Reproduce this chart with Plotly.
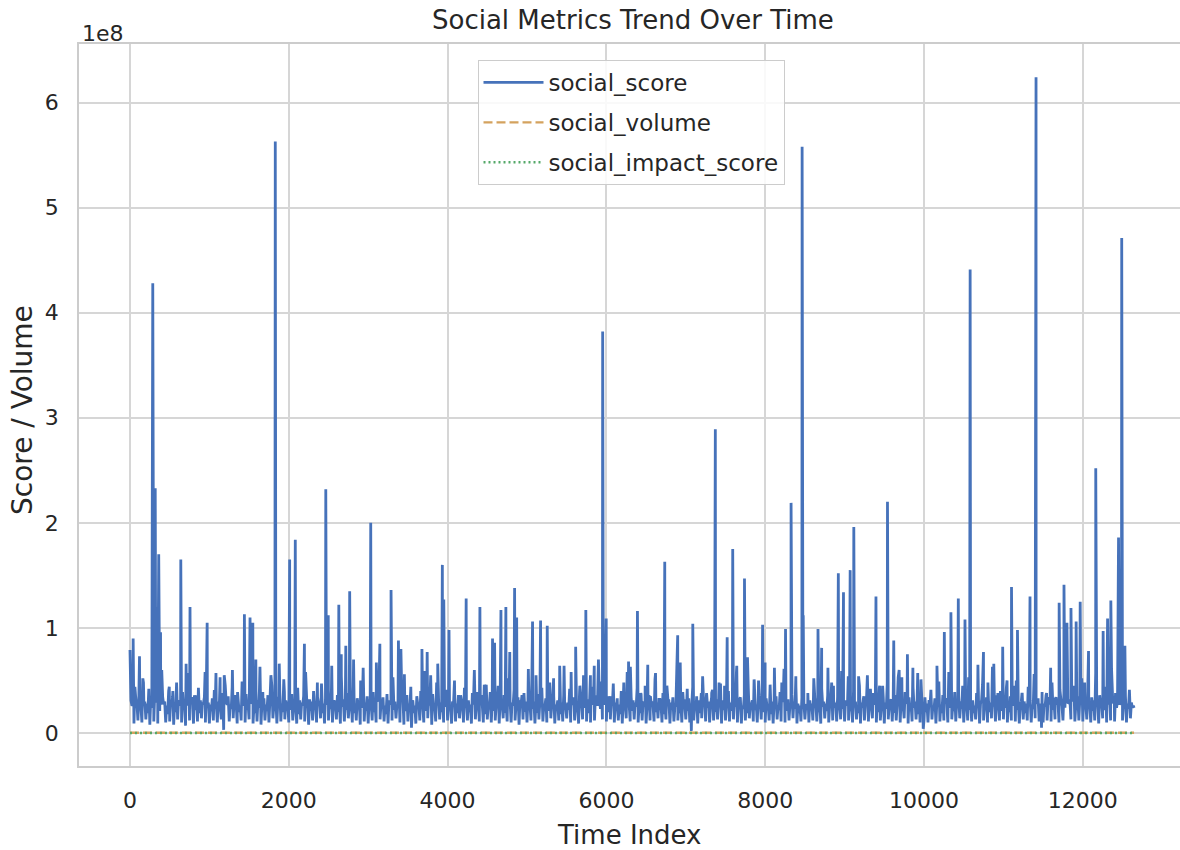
import plotly.graph_objects as go

# ---------------- data (values in millions) ----------------
# dense baseline band read in two interleaved passes (every 25 steps, offset 0 and 12)
base_step = 25
baseline_a_m = [
    14, 26, 9, 31, 12, 22, 10, 28, 13, 19, 8, 24, 11, 33, 9, 21, 12, 27, 10, 18,
    11, 25, 8, 20, 13, 29, 10, 23, 7, 26, 12, 34, 9, 22, 11, 19, 14, 28, 10, 24,
    9, 21, 12, 30, 10, 25, 13, 18, 8, 27, 11, 23, 14, 36, 9, 20, 12, 26, 10, 22,
    13, 28, 9, 19, 11, 24, 8, 31, 12, 21, 10, 27, 14, 23, 9, 35, 11, 20, 13, 25,
    10, 22, 12, 29, 9, 18, 13, 26, 11, 33, 8, 21, 12, 24, 10, 28, 14, 19, 9, 27,
    12, 23, 10, 30, 13, 20, 9, 25, 11, 22, 14, 38, 10, 19, 12, 27, 8, 24, 11, 21,
    9, 26, 12, 20, 10, 32, 13, 23, 11, 18, 9, 28, 12, 22, 14, 25, 10, 30, 8, 21,
    11, 24, 13, 19, 9, 27, 12, 34, 10, 21, 14, 26, 8, 23, 11, 29, 13, 20, 10, 25,
    12, 22, 9, 28, 11, 19, 14, 31, 10, 24, 12, 20, 9, 27, 13, 23, 11, 36, 10, 18,
    13, 25, 10, 21, 12, 29, 9, 23, 14, 19, 11, 32, 10, 26, 12, 22, 8, 28, 13, 20,
    10, 27, 12, 23, 9, 19, 13, 30, 11, 25, 10, 21, 14, 33, 9, 24, 12, 18, 11, 26,
    14, 22, 10, 29, 12, 20, 9, 35, 13, 24, 11, 19, 10, 27, 12, 31, 9, 23, 13, 28,
    11, 20, 13, 26, 10, 22, 12, 18, 9, 24, 14, 30, 11, 21, 13, 25, 10, 19, 12, 27,
    9, 23, 12, 29, 11, 20, 14, 25, 10, 18, 13, 32, 9, 22, 11, 26, 12, 19, 10, 24,
    13, 21, 10, 27, 12, 23, 9, 19, 14, 28, 11, 24, 10, 34, 12, 20, 13, 26, 9, 22,
    12, 29, 11, 21, 13, 25, 10, 31, 9, 23, 12, 19, 14, 27, 11, 22, 10, 36, 13, 20,
    10, 24, 12, 18, 9, 26, 13, 22, 11, 30, 10, 21, 12, 28, 14, 23, 9, 19, 11, 25,
    13, 27, 10, 22, 12, 33, 11, 20, 9, 25, 14, 21, 10, 29, 12, 24, 11, 38, 13, 23,
    11, 26, 12, 21, 10, 28, 13, 19, 9, 24, 12, 31, 11, 22, 14, 27, 10, 20, 12, 25,
    9, 23, 13, 30, 11, 19, 12, 26, 10, 22, 14, 28, 9, 21, 11, 24, 13, 18, 10, 27,
    12, 20, 10, 25, 13, 22, 9, 29, 11, 19, 12, 33, 10, 24, 13, 21, 11, 27, 14, 23,
    10, 28, 12, 22, 11, 19, 13, 26, 9, 31, 12, 23, 10, 20, 14, 25, 11, 29, 12, 21,
    13, 24, 10, 20, 12, 27, 11, 22, 9, 30, 13, 19, 12, 26, 10, 23, 14, 28, 11, 21,
    10, 25, 12, 34, 11, 22, 13, 27, 10, 31, 12, 24, 9, 29, 13, 36, 11, 26, 12, 30,
    11, 23, 13, 28, 10, 21, 12, 32, 9, 25, 14, 22, 10, 27, 12, 35, 11, 24, 13, 29,
    12, 26, 10, 23, 14, 24,
]
baseline_b_offset = 12
baseline_b_m = [
    31, 27, 44, 29, 36, 26, 52, 30, 28, 42, 33, 25, 38, 29, 61, 27, 34, 30, 26, 40,
    29, 35, 27, 48, 31, 26, 39, 28, 33, 57, 30, 27, 36, 25, 43, 31, 28, 34, 46, 29,
    27, 33, 41, 28, 30, 26, 38, 55, 29, 35, 27, 44, 31, 28, 32, 26, 49, 30, 37, 28,
    34, 29, 26, 40, 31, 63, 28, 33, 27, 36, 30, 45, 26, 32, 29, 39, 28, 51, 31, 27,
    30, 37, 28, 26, 43, 31, 29, 35, 58, 27, 32, 30, 40, 26, 34, 29, 47, 28, 33, 31,
    26, 41, 30, 28, 36, 27, 54, 32, 29, 38, 26, 31, 45, 28, 33, 30, 27, 62, 29, 35,
    32, 28, 39, 27, 30, 46, 29, 34, 26, 37, 31, 28, 53, 30, 27, 42, 29, 33, 26, 36,
    28, 44, 31, 26, 35, 29, 40, 27, 59, 30, 33, 28, 37, 26, 48, 31, 29, 34, 27, 41,
    33, 27, 30, 50, 28, 36, 26, 32, 43, 29, 31, 27, 38, 60, 30, 28, 35, 26, 46, 29,
    26, 39, 29, 33, 27, 45, 31, 28, 36, 26, 52, 30, 29, 41, 27, 34, 31, 26, 38, 30,
    31, 28, 56, 30, 27, 37, 29, 43, 26, 33, 30, 48, 28, 35, 27, 31, 64, 29, 36, 26,
    29, 42, 27, 34, 31, 26, 39, 30, 55, 28, 32, 27, 44, 29, 36, 26, 33, 49, 28, 30,
    35, 26, 31, 47, 29, 33, 27, 40, 30, 28, 58, 26, 34, 31, 29, 43, 27, 37, 30, 28,
    27, 36, 30, 26, 51, 29, 32, 28, 38, 27, 45, 31, 29, 34, 26, 62, 30, 28, 39, 27,
    30, 33, 28, 44, 26, 35, 31, 29, 54, 27, 38, 30, 26, 41, 29, 32, 28, 47, 31, 26,
    28, 40, 29, 31, 27, 57, 30, 34, 26, 36, 29, 43, 28, 31, 50, 27, 33, 30, 38, 29,
    33, 27, 46, 30, 28, 35, 26, 39, 31, 61, 29, 32, 27, 37, 30, 44, 28, 26, 34, 29,
    26, 38, 31, 28, 52, 29, 33, 27, 42, 30, 28, 36, 26, 48, 31, 29, 35, 27, 59, 30,
    31, 29, 35, 27, 40, 30, 26, 45, 29, 33, 28, 55, 30, 27, 38, 31, 29, 43, 26, 34,
    29, 47, 27, 32, 30, 36, 28, 60, 31, 26, 39, 29, 34, 27, 44, 30, 28, 37, 51, 27,
    34, 28, 30, 41, 26, 33, 29, 49, 27, 36, 31, 28, 58, 30, 26, 39, 29, 35, 27, 45,
    27, 32, 53, 29, 31, 26, 38, 30, 28, 46, 27, 34, 31, 29, 63, 28, 36, 26, 40, 30,
    30, 43, 28, 35, 27, 31, 50, 29, 26, 37, 30, 28, 44, 31, 27, 56, 29, 33, 28, 39,
    28, 36, 31, 27, 48, 30, 34, 29, 41, 26, 38, 65, 28, 32, 30, 45, 27, 35, 31, 52,
    32, 29, 40, 27, 34, 31, 57, 28, 36, 30, 26, 44, 29, 33, 61, 28, 38, 30, 27, 49,
    30, 35, 28, 41, 29, 26,
]

# spikes and dips
spike_index = [
    0, 40, 120, 170, 287, 318, 345, 362, 385, 400, 495, 540, 640, 707, 756, 840,
    946, 972, 1083, 1135, 1180, 1200, 1290, 1355, 1441, 1512, 1547, 1585, 1673,
    1775, 1830, 1880, 1945, 2011, 2082, 2197, 2360, 2466, 2497, 2541, 2630, 2661,
    2718, 2767, 2816, 2905, 3032, 3103, 3147, 3288, 3381, 3412, 3456, 3545, 3553,
    3677, 3743, 3787, 3876, 3934, 3952, 4018, 4089, 4164, 4234, 4309, 4376, 4407,
    4487, 4566, 4592, 4672, 4734, 4783, 4844, 4870, 4937, 5017, 5070, 5114, 5171,
    5255, 5335, 5410, 5467, 5556, 5613, 5666, 5741, 5799, 5847, 5900, 5953, 5998,
    6046, 6139, 6219, 6279, 6302, 6391, 6433, 6488, 6521, 6554, 6619, 6675, 6735,
    6777, 6860, 6898, 6930, 6977, 7018, 7070, 7088, 7130, 7195, 7256, 7326, 7372,
    7419, 7488, 7521, 7558, 7591, 7642, 7739, 7777, 7860, 7916, 7967, 7999, 8116,
    8209, 8256, 8326, 8386, 8465, 8479, 8535, 8605, 8665, 8711, 8790, 8860, 8921,
    8986, 9046, 9070, 9116, 9176, 9242, 9325, 9395, 9442, 9479, 9540, 9619, 9675,
    9721, 9791, 9860, 9921, 9986, 9990, 10070, 10163, 10256, 10339, 10432, 10465,
    10516, 10581, 10679, 10749, 10805, 10879, 10930, 10991, 11046, 11102, 11140,
    11177, 11233, 11335, 11411, 11480, 11488, 11544, 11595, 11651, 11702, 11763,
    11800, 11851, 11916, 11967, 12023, 12072, 12163, 12233, 12256, 12312, 12353,
    12395, 12450, 12490, 12530, 12560, 12645,
]
spike_m = [
    79, 90, 73, 48, 428, 233, 120, 170, 96, 60, 44, 40, 165, 66, 120, 36,
    58, 105, 57, 53, 3, 45, 60, 39, 113, 110, 105, 70, 39,
    55, 563, 66, 39, 165, 184, 85, 48, 232, 112, 64, 122, 75,
    83, 135, 70, 50, 200, 67, 85, 136, 88, 80, 56, 5, 30,
    80, 77, 55, 66, 160, 127, 98, 40, 36, 128, 31, 39, 120,
    46, 90, 86, 117, 120, 77, 138, 110, 36, 61, 106, 55, 107,
    102, 52, 36, 64, 58, 82, 45, 117, 55, 64, 70, 382, 109,
    35, 26, 48, 68, 63, 116, 38, 45, 65, 35, 57, 32, 163,
    32, 22, 93, 67, 32, 42, 2, 104, 26, 38, 32, 38, 289,
    48, 45, 91, 22, 175, 64, 147, 72, 51, 50, 103, 67, 62,
    48, 99, 219, 54, 558, 112, 22, 24, 99, 81, 62, 45, 152,
    134, 54, 155, 196, 54, 35, 42, 130, 45, 45, 220, 88, 53,
    53, 75, 62, 57, 29, 4, 30, 64, 96, 115, 128, 30,
    108, 441, 65, 77, 48, 66, 38, 82, 50, 139, 45,
    98, 37, 130, 624, 5, 26, 38, 62, 32, 124, 141,
    105, 119, 106, 125, 48, 78, 252, 26, 97, 109, 126,
    35, 186, 471, 83, 26, 24,
]

volume_index = [0, 12645]
social_volume_m = [0.2, 0.2]
impact_index = [0, 12645]
social_impact_m = [0.0, 0.0]

x_ticks = [0, 2000, 4000, 6000, 8000, 10000, 12000]
x_ticktext = ["0", "2000", "4000", "6000", "8000", "10000", "12000"]
y_ticks = [0, 1, 2, 3, 4, 5, 6]          # in units of 1e8
y_ticktext = ["0", "1", "2", "3", "4", "5", "6"]

# ---------------- build series ----------------
points = {i * base_step: v for i, v in enumerate(baseline_a_m)}
for i, v in enumerate(baseline_b_m):
    points[i * base_step + baseline_b_offset] = v
for i, v in zip(spike_index, spike_m):
    points[i] = v
xs = sorted(points)
ys = [points[x] * 1e6 for x in xs]

FONT = "DejaVu Sans"
TXT = "#262626"
GRID = "#d6d6d6"

fig = go.Figure()
fig.add_trace(go.Scatter(x=xs, y=ys, mode="lines", name="social_score",
                         legendgroup="a",
                         line=dict(color="#4672BA", width=2.8, simplify=False)))
fig.add_trace(go.Scatter(x=volume_index, y=[v * 1e6 for v in social_volume_m],
                         mode="lines", name="social_volume", legendgroup="b",
                         line=dict(color="#D4A25E", width=2.4, dash="9px,4px")))
fig.add_trace(go.Scatter(x=impact_index, y=[v * 1e6 for v in social_impact_m],
                         mode="lines", name="social_impact_score", legendgroup="c",
                         line=dict(color="#55A868", width=2.4, dash="2px,3px")))

L, R, T, B = 79, 0, 44, 84
W, H = 1180, 850
pw, ph = W - L - R, H - T - B

def px_x(p):
    return (p - L) / pw

def px_y(p):
    return (H - B - p) / ph

fig.update_layout(
    width=W, height=H,
    margin=dict(l=L, r=R, t=T, b=B),
    paper_bgcolor="white", plot_bgcolor="white",
    font=dict(family=FONT, color=TXT),
    showlegend=True,
    legend=dict(x=px_x(631), xanchor="center", y=px_y(60), yanchor="top",
                font=dict(size=23, family=FONT, color=TXT),
                bgcolor="rgba(255,255,255,0.85)", bordercolor="#cccccc",
                borderwidth=1, tracegroupgap=7, itemwidth=60),
    xaxis=dict(range=[-642, 13224], tickvals=x_ticks, ticktext=x_ticktext,
               tickfont=dict(size=22, family=FONT, color=TXT),
               showgrid=True, gridcolor=GRID, gridwidth=1.5,
               showline=True, linecolor="#cccccc", linewidth=1.5, mirror=True,
               zeroline=False, ticks="", ticklabelstandoff=14, automargin=False),
    yaxis=dict(range=[-0.314e8, 6.557e8], tickvals=[v * 1e8 for v in y_ticks],
               ticktext=y_ticktext,
               tickfont=dict(size=22, family=FONT, color=TXT),
               showgrid=True, gridcolor=GRID, gridwidth=1.5,
               showline=True, linecolor="#cccccc", linewidth=1.5, mirror=False,
               zeroline=False, ticks="", ticklabelstandoff=14, automargin=False),
    annotations=[
        dict(text="Social Metrics Trend Over Time", xref="paper", yref="paper",
             x=px_x(633), y=px_y(20), xanchor="center", yanchor="middle",
             showarrow=False, font=dict(size=26, family=FONT, color=TXT)),
        dict(text="1e8", xref="paper", yref="paper",
             x=px_x(80), y=px_y(33), xanchor="left", yanchor="middle",
             showarrow=False, font=dict(size=22, family=FONT, color=TXT)),
        dict(text="Time Index", xref="paper", yref="paper",
             x=px_x(629), y=px_y(835), xanchor="center", yanchor="middle",
             showarrow=False, font=dict(size=26, family=FONT, color=TXT)),
        dict(text="Score / Volume", xref="paper", yref="paper", textangle=-90,
             x=px_x(22), y=px_y(410), xanchor="center", yanchor="middle",
             showarrow=False, font=dict(size=28, family=FONT, color=TXT)),
    ],
)

fig.write_html(
    "out.html",
    config={"displayModeBar": False},
    post_script="document.body.style.margin='0px';document.body.style.overflow='hidden';",
)
